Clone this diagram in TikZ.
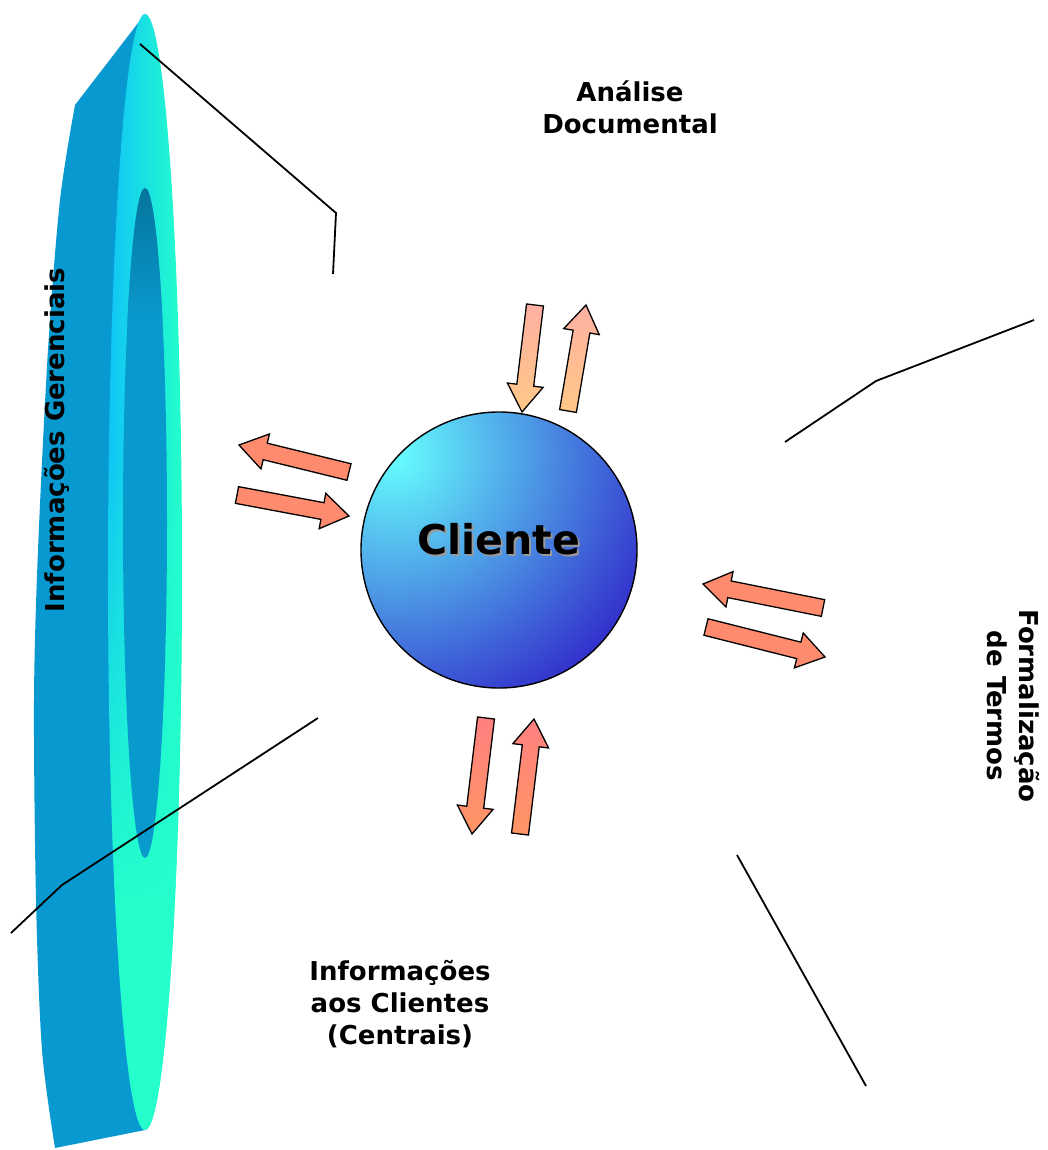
\documentclass[tikz,border=0pt]{standalone}
\usepackage{fontspec}
\setmainfont{DejaVu Sans}
\usetikzlibrary{calc,fadings}
\definecolor{sideblue}{HTML}{0799CF}
\definecolor{facecyan}{HTML}{10C4F6}
\definecolor{facegreen}{HTML}{24FFCC}
\definecolor{holeblue}{HTML}{0899CD}
\definecolor{holedark}{HTML}{06749C}
\definecolor{ballcyan}{HTML}{66FFFF}
\definecolor{ballblue}{HTML}{3333CC}
\definecolor{salmon}{HTML}{FF8B6E}
\definecolor{pinktop}{HTML}{FFB0A2}
\definecolor{peachbot}{HTML}{FFC887}
\definecolor{redtop}{HTML}{FF8080}
\definecolor{orangebot}{HTML}{FF9664}
\tikzset{
  arrowline/.style={draw=black, line width=1.3pt, line join=miter},
  callout/.style={draw=black, line width=1.8pt},
  label/.style={font=\fontsize{26}{32}\selectfont\bfseries, align=center, inner sep=0pt},
}
\newcommand{\blockarr}[4]{%
  \coordinate (bah) at ($(#2)!27pt!(#1)$);
  \draw[arrowline, top color=#3, bottom color=#4]
    ($(#1)!8.5pt!90:(#2)$) -- ($(bah)!8.5pt!90:(#2)$) -- ($(bah)!18pt!90:(#2)$) -- (#2)
    -- ($(bah)!18pt!-90:(#2)$) -- ($(bah)!8.5pt!-90:(#2)$) -- ($(#1)!8.5pt!-90:(#2)$) -- cycle;}
\begin{document}
\begin{tikzpicture}[x=1pt,y=-1pt]
\useasboundingbox (0,0) rectangle (1047,1150);
% ---- ring: side surface
\fill[sideblue] (145,14) -- (75,105)
  -- plot[smooth] coordinates {(75,105) (60,200) (48,350) (38,550) (34,700) (36,900) (42,1050) (55,1148)}
  -- (145,1130) -- cycle;
% ---- ring: front face
\path[left color=facecyan, right color=facegreen] (145,572) ellipse [x radius=37, y radius=558];
\begin{scope}
  \clip (145,572) ellipse [x radius=37, y radius=558];
  \fill[facegreen, path fading=north] (100,450) rectangle (190,900);
  \fill[facegreen] (100,899) rectangle (190,1140);
\end{scope}
% ---- ring: hole
\begin{scope}
  \clip (145,523) ellipse [x radius=22, y radius=335];
  \fill[holeblue] (120,180) rectangle (170,870);
  \shade[top color=holedark, bottom color=holeblue] (120,185) rectangle (170,320);
\end{scope}
% ---- callout lines
\coordinate (l1a) at (140,44); \coordinate (l1b) at (336,213); \coordinate (l1c) at (333,274);
\draw[callout] (l1a) -- (l1b) -- (l1c);
\coordinate (l2a) at (785,442); \coordinate (l2b) at (876,381); \coordinate (l2c) at (1034,320);
\draw[callout] (l2a) -- (l2b) -- (l2c);
\coordinate (l3a) at (737,855); \coordinate (l3b) at (866,1086);
\draw[callout] (l3a) -- (l3b);
\coordinate (l4a) at (318,718); \coordinate (l4b) at (62,885); \coordinate (l4c) at (11,933);
\draw[callout] (l4a) -- (l4b) -- (l4c);
% ---- client ball
\begin{scope}
  \clip (499,550) circle (138);
  \fill[ballblue] (350,400) rectangle (650,700);
  \shade[inner color=ballcyan, outer color=ballblue] (395,455) circle (275);
\end{scope}
\node[circle, draw=black, line width=1.4pt, minimum size=276pt, inner sep=0pt] (cli) at (499,550) {};
\node[font=\fontsize{41}{48}\selectfont\bfseries, text=black!40, inner sep=0pt] (clishadow) at (501,541) {Cliente};
\node[font=\fontsize{41}{48}\selectfont\bfseries, inner sep=0pt] (clitext) at (499,539) {Cliente};
% ---- arrows
\coordinate (tla) at (349,472); \coordinate (tlb) at (239,445);
\coordinate (tlc) at (237,495); \coordinate (tld) at (349,516);
\coordinate (ta) at (535,305); \coordinate (tb) at (522,412);
\coordinate (tc) at (568,411); \coordinate (td) at (586,305);
\coordinate (ra) at (823,608); \coordinate (rb) at (703,584);
\coordinate (rc) at (706,627); \coordinate (rd) at (825,657);
\coordinate (ba) at (486,718); \coordinate (bb) at (472,834);
\coordinate (bc) at (520,834); \coordinate (bd) at (534,719);
\blockarr{tla}{tlb}{salmon}{salmon}
\blockarr{tlc}{tld}{salmon}{salmon}
\blockarr{ta}{tb}{pinktop}{peachbot}
\blockarr{tc}{td}{pinktop}{peachbot}
\blockarr{ra}{rb}{salmon}{salmon}
\blockarr{rc}{rd}{salmon}{salmon}
\blockarr{ba}{bb}{redtop}{orangebot}
\blockarr{bc}{bd}{redtop}{orangebot}
% ---- labels
\node[label] (analise) at (630,107) {Análise\\Documental};
\node[label] (infocli) at (400,1004) {Informações\\aos Clientes\\(Centrais)};
\node[label, rotate=-90] (formal) at (1013,706) {Formalização\\de Termos};
\node[label, rotate=90] (infoger) at (57,440) {Informações Gerenciais};
\end{tikzpicture}
\end{document}
